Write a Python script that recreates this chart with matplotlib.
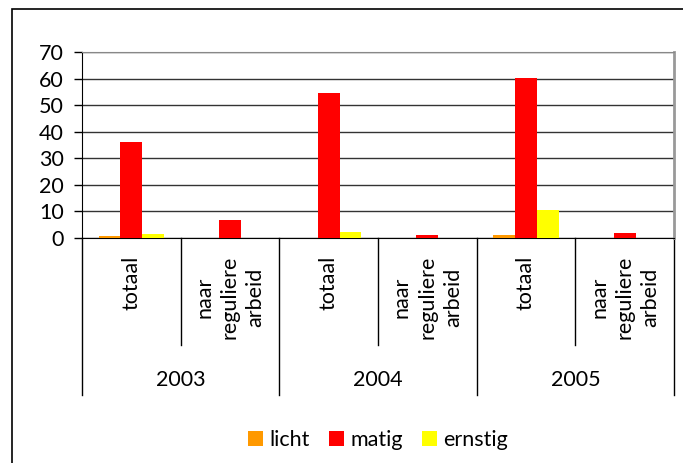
import numpy as np
import matplotlib
matplotlib.use("Agg")
import matplotlib.pyplot as plt
from matplotlib.patches import Rectangle
from matplotlib.transforms import blended_transform_factory

plt.rcParams['font.family'] = ['Lato', 'DejaVu Sans']

years = ["2003", "2004", "2005"]
subcats = ["totaal", "naar\nreguliere\narbeid"]
series = ["licht", "matig", "ernstig"]
colors = ["#FF9900", "#FF0000", "#FFFF00"]

# values per (year, subcategory): 2003 totaal, 2003 naar, 2004 totaal, ...
licht = [0.6, 0, 0, 0, 1, 0]
matig = [36, 6.7, 54.6, 1, 60.2, 1.8]
ernstig = [1.6, 0, 2.3, 0, 10.6, 0]

fig = plt.figure(figsize=(6.83, 4.63), dpi=100)
ax = fig.add_axes([82 / 683, 1 - 238 / 463, (674 - 82) / 683, (238 - 52) / 463])

# outer frame
fig.patches.append(Rectangle((12 / 683, -0.02), 1.0, 1 - 9 / 463 + 0.02,
                             transform=fig.transFigure, fill=False,
                             edgecolor="black", linewidth=1.2))

x = np.arange(len(matig))
w = 0.22
for i, (vals, c, name) in enumerate(zip([licht, matig, ernstig], colors, series)):
    ax.bar(x + (i - 1) * w, vals, width=w, color=c, label=name, zorder=3)

ax.set_xlim(-0.5, len(matig) - 0.5)
ax.set_ylim(0, 70)
ax.set_yticks(range(0, 71, 10))
ax.yaxis.grid(True, color="#333333", linewidth=1)
ax.set_axisbelow(True)
ax.tick_params(axis="y", labelsize=15.5, length=6, width=1, pad=7)
ax.set_xticks([])

ax.spines["left"].set_color("black")
ax.spines["bottom"].set_color("black")
ax.spines["top"].set_color("#888888")
ax.spines["right"].set_color("#999999")
ax.spines["right"].set_linewidth(2)

trans = blended_transform_factory(ax.transData, ax.transAxes)
# subcategory separators
for xs in [0.5, 2.5, 4.5]:
    ax.plot([xs, xs], [0, -0.575], color="black", linewidth=1, transform=trans, clip_on=False)
# group separators
for xs in [-0.5, 1.5, 3.5, 5.5]:
    ax.plot([xs, xs], [0, -0.844], color="black", linewidth=1, transform=trans, clip_on=False)

# subcategory labels
for k in range(len(matig)):
    ax.text(k, -0.095, subcats[k % 2], rotation=90, ha="center", va="top",
            multialignment="center", fontsize=15.5, transform=trans, linespacing=1.35)

# year labels
for j, yr in enumerate(years):
    ax.text(2 * j + 0.5, -0.765, yr, ha="center", va="center", fontsize=15.5, transform=trans)

fig.legend(loc="center", bbox_to_anchor=(378 / 683, 1 - 440 / 463), ncol=3,
           frameon=False, fontsize=15.5, handlelength=0.68, handleheight=0.68,
           handletextpad=0.3, columnspacing=0.9)

fig.savefig("out.png", dpi=100)
